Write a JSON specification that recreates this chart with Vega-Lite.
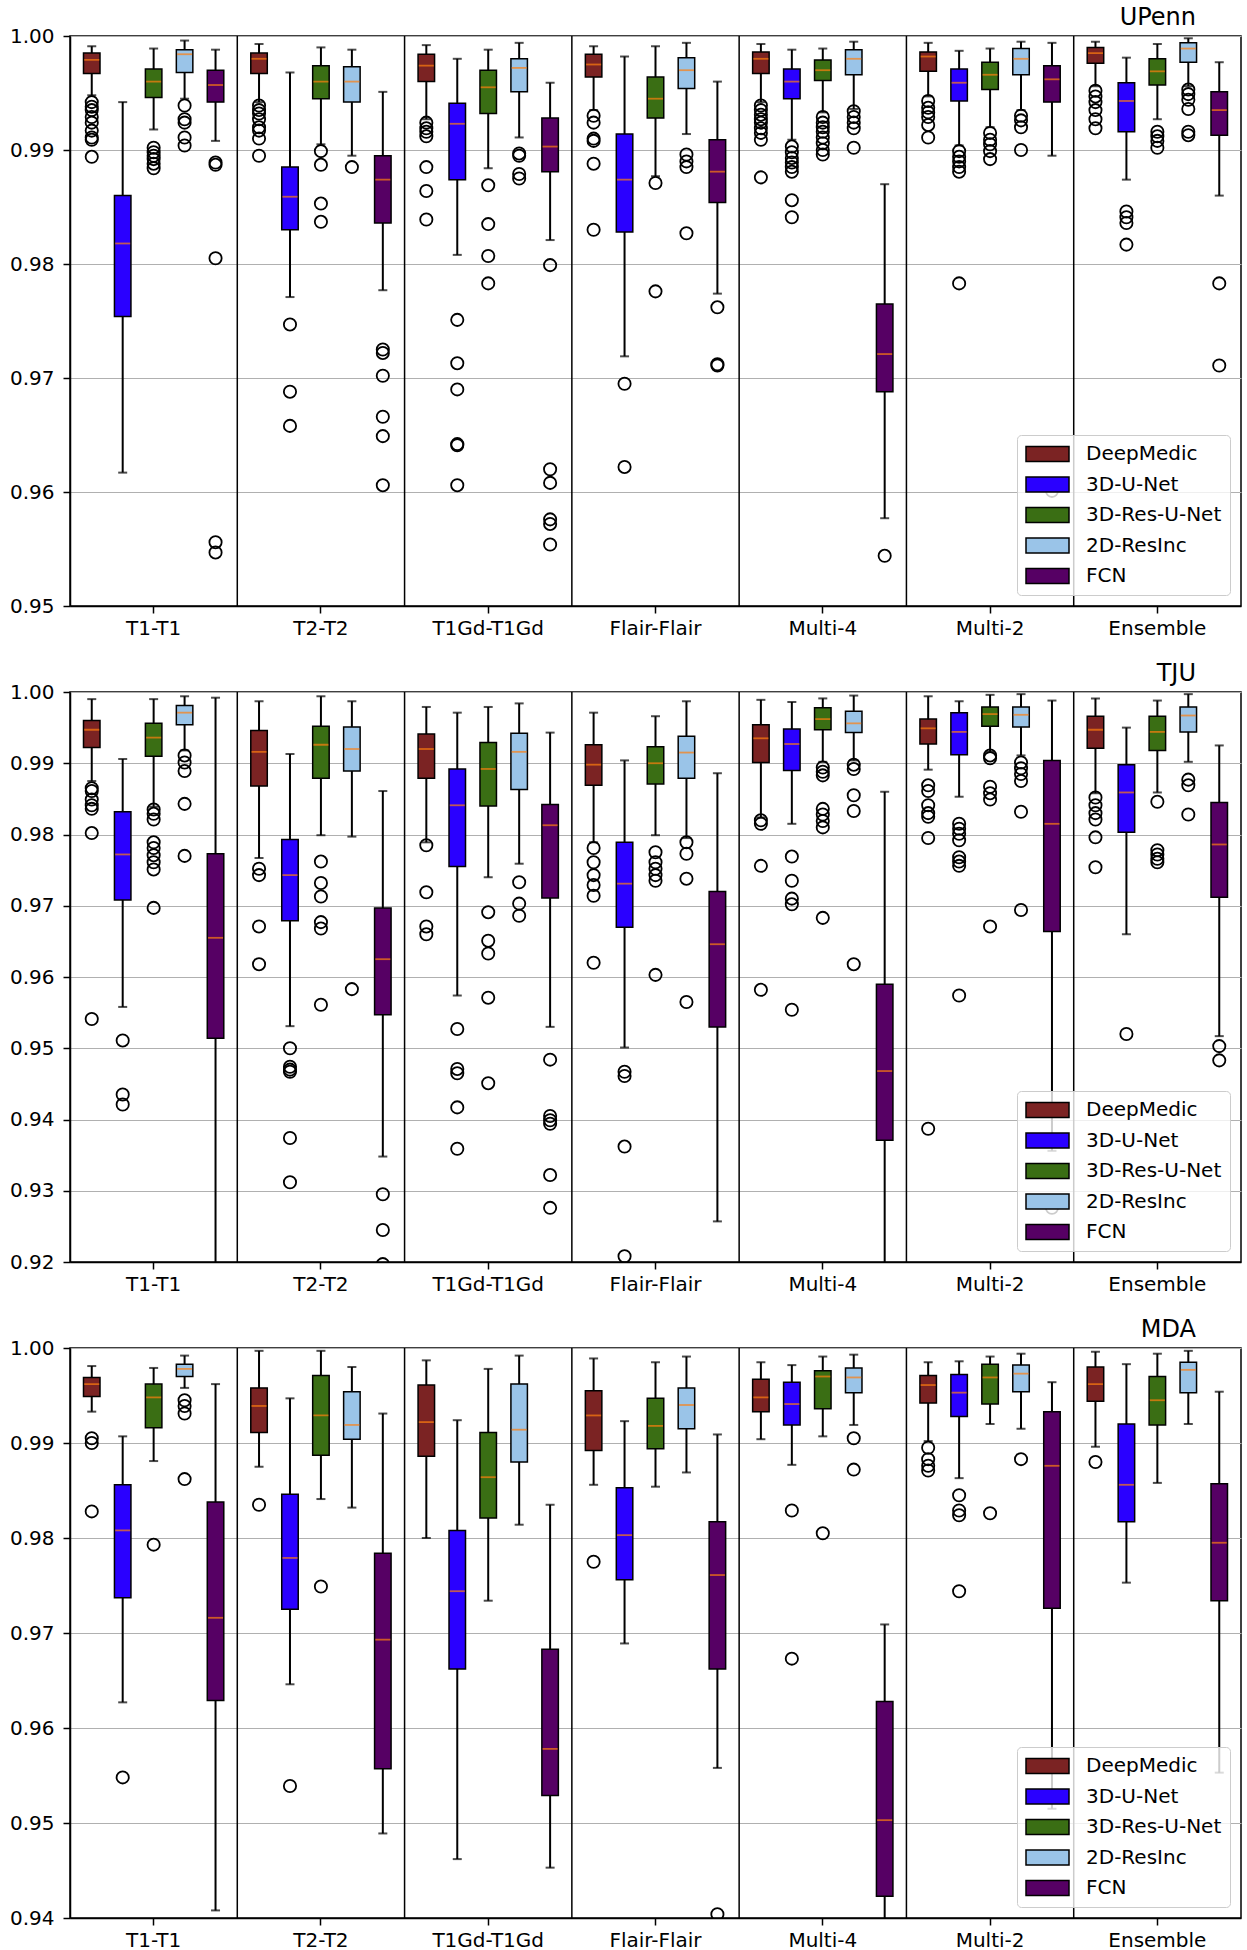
{
"$schema": "https://vega.github.io/schema/vega-lite/v6.json",
"padding": {"left": 8, "top": 5, "right": 0, "bottom": 0},
"config": {
  "font": "DejaVu Sans",
  "view": {"stroke": "black", "strokeWidth": 1.5},
  "axis": {"labelFont": "DejaVu Sans", "labelFontSize": 20, "labelColor": "black", "tickColor": "black", "tickSize": 7, "tickWidth": 1.5, "domainColor": "black", "domainWidth": 1.5, "gridColor": "#b0b0b0", "gridWidth": 1.2},
  "axisX": {"grid": false, "labelAngle": 0, "labelPadding": 5},
  "axisY": {"grid": true, "labelPadding": 9},
  "legend": {"orient": "bottom-right", "offset": 11, "fillColor": "rgba(255,255,255,0.8)", "strokeColor": "#cccccc", "cornerRadius": 4, "padding": 8, "symbolType": "M-1,-0.35H1V0.35H-1Z", "symbolSize": 1849, "symbolStrokeColor": "black", "symbolStrokeWidth": 1.5, "symbolOpacity": 1, "labelFont": "DejaVu Sans", "labelFontSize": 20, "labelColor": "black", "labelOffset": 16, "clipHeight": 22, "rowPadding": 8.5},
  "title": {"font": "DejaVu Sans", "fontSize": 24, "fontWeight": "normal", "color": "black", "anchor": "end", "frame": "group", "dx": -45, "offset": -4}
},
"datasets": {
"boxes": [
{"site":"UPenn","group":"T1-T1","model":"DeepMedic","lo":0.9948,"q1":0.9967,"med":0.9979,"q3":0.9985,"hi":0.9991},
{"site":"UPenn","group":"T1-T1","model":"3D-U-Net","lo":0.9617,"q1":0.9754,"med":0.9818,"q3":0.9860,"hi":0.9942},
{"site":"UPenn","group":"T1-T1","model":"3D-Res-U-Net","lo":0.9918,"q1":0.9946,"med":0.9960,"q3":0.9971,"hi":0.9989},
{"site":"UPenn","group":"T1-T1","model":"2D-ResInc","lo":0.9945,"q1":0.9968,"med":0.9984,"q3":0.9988,"hi":0.9996},
{"site":"UPenn","group":"T1-T1","model":"FCN","lo":0.9908,"q1":0.9942,"med":0.9957,"q3":0.9970,"hi":0.9988},
{"site":"UPenn","group":"T2-T2","model":"DeepMedic","lo":0.9942,"q1":0.9967,"med":0.9980,"q3":0.9985,"hi":0.9993},
{"site":"UPenn","group":"T2-T2","model":"3D-U-Net","lo":0.9771,"q1":0.9830,"med":0.9859,"q3":0.9885,"hi":0.9968},
{"site":"UPenn","group":"T2-T2","model":"3D-Res-U-Net","lo":0.9905,"q1":0.9945,"med":0.9960,"q3":0.9974,"hi":0.9990},
{"site":"UPenn","group":"T2-T2","model":"2D-ResInc","lo":0.9895,"q1":0.9942,"med":0.9960,"q3":0.9973,"hi":0.9988},
{"site":"UPenn","group":"T2-T2","model":"FCN","lo":0.9777,"q1":0.9836,"med":0.9874,"q3":0.9895,"hi":0.9951},
{"site":"UPenn","group":"T1Gd-T1Gd","model":"DeepMedic","lo":0.9927,"q1":0.9960,"med":0.9974,"q3":0.9984,"hi":0.9992},
{"site":"UPenn","group":"T1Gd-T1Gd","model":"3D-U-Net","lo":0.9808,"q1":0.9874,"med":0.9923,"q3":0.9941,"hi":0.9980},
{"site":"UPenn","group":"T1Gd-T1Gd","model":"3D-Res-U-Net","lo":0.9884,"q1":0.9932,"med":0.9955,"q3":0.9970,"hi":0.9988},
{"site":"UPenn","group":"T1Gd-T1Gd","model":"2D-ResInc","lo":0.9911,"q1":0.9951,"med":0.9972,"q3":0.9980,"hi":0.9994},
{"site":"UPenn","group":"T1Gd-T1Gd","model":"FCN","lo":0.9821,"q1":0.9881,"med":0.9903,"q3":0.9928,"hi":0.9959},
{"site":"UPenn","group":"Flair-Flair","model":"DeepMedic","lo":0.9935,"q1":0.9964,"med":0.9975,"q3":0.9984,"hi":0.9991},
{"site":"UPenn","group":"Flair-Flair","model":"3D-U-Net","lo":0.9719,"q1":0.9828,"med":0.9874,"q3":0.9914,"hi":0.9982},
{"site":"UPenn","group":"Flair-Flair","model":"3D-Res-U-Net","lo":0.9877,"q1":0.9928,"med":0.9945,"q3":0.9964,"hi":0.9991},
{"site":"UPenn","group":"Flair-Flair","model":"2D-ResInc","lo":0.9914,"q1":0.9954,"med":0.9970,"q3":0.9981,"hi":0.9994},
{"site":"UPenn","group":"Flair-Flair","model":"FCN","lo":0.9774,"q1":0.9854,"med":0.9881,"q3":0.9909,"hi":0.9960},
{"site":"UPenn","group":"Multi-4","model":"DeepMedic","lo":0.9942,"q1":0.9967,"med":0.9980,"q3":0.9986,"hi":0.9993},
{"site":"UPenn","group":"Multi-4","model":"3D-U-Net","lo":0.9909,"q1":0.9945,"med":0.9960,"q3":0.9971,"hi":0.9988},
{"site":"UPenn","group":"Multi-4","model":"3D-Res-U-Net","lo":0.9933,"q1":0.9961,"med":0.9970,"q3":0.9979,"hi":0.9989},
{"site":"UPenn","group":"Multi-4","model":"2D-ResInc","lo":0.9936,"q1":0.9966,"med":0.9980,"q3":0.9988,"hi":0.9995},
{"site":"UPenn","group":"Multi-4","model":"FCN","lo":0.9577,"q1":0.9688,"med":0.9721,"q3":0.9765,"hi":0.9870},
{"site":"UPenn","group":"Multi-2","model":"DeepMedic","lo":0.9947,"q1":0.9969,"med":0.9982,"q3":0.9986,"hi":0.9994},
{"site":"UPenn","group":"Multi-2","model":"3D-U-Net","lo":0.9904,"q1":0.9943,"med":0.9959,"q3":0.9971,"hi":0.9987},
{"site":"UPenn","group":"Multi-2","model":"3D-Res-U-Net","lo":0.9920,"q1":0.9953,"med":0.9966,"q3":0.9977,"hi":0.9989},
{"site":"UPenn","group":"Multi-2","model":"2D-ResInc","lo":0.9935,"q1":0.9966,"med":0.9980,"q3":0.9989,"hi":0.9995},
{"site":"UPenn","group":"Multi-2","model":"FCN","lo":0.9895,"q1":0.9942,"med":0.9962,"q3":0.9974,"hi":0.9994},
{"site":"UPenn","group":"Ensemble","model":"DeepMedic","lo":0.9956,"q1":0.9976,"med":0.9985,"q3":0.9990,"hi":0.9995},
{"site":"UPenn","group":"Ensemble","model":"3D-U-Net","lo":0.9874,"q1":0.9916,"med":0.9943,"q3":0.9959,"hi":0.9981},
{"site":"UPenn","group":"Ensemble","model":"3D-Res-U-Net","lo":0.9927,"q1":0.9957,"med":0.9969,"q3":0.9980,"hi":0.9993},
{"site":"UPenn","group":"Ensemble","model":"2D-ResInc","lo":0.9956,"q1":0.9977,"med":0.9989,"q3":0.9994,"hi":0.9998},
{"site":"UPenn","group":"Ensemble","model":"FCN","lo":0.9860,"q1":0.9913,"med":0.9935,"q3":0.9951,"hi":0.9977},
{"site":"TJU","group":"T1-T1","model":"DeepMedic","lo":0.9875,"q1":0.9922,"med":0.9947,"q3":0.9960,"hi":0.9990},
{"site":"TJU","group":"T1-T1","model":"3D-U-Net","lo":0.9558,"q1":0.9708,"med":0.9772,"q3":0.9832,"hi":0.9906},
{"site":"TJU","group":"T1-T1","model":"3D-Res-U-Net","lo":0.9839,"q1":0.9910,"med":0.9936,"q3":0.9956,"hi":0.9990},
{"site":"TJU","group":"T1-T1","model":"2D-ResInc","lo":0.9918,"q1":0.9954,"med":0.9971,"q3":0.9981,"hi":0.9994},
{"site":"TJU","group":"T1-T1","model":"FCN","lo":0.9100,"q1":0.9514,"med":0.9655,"q3":0.9773,"hi":0.9992},
{"site":"TJU","group":"T2-T2","model":"DeepMedic","lo":0.9767,"q1":0.9868,"med":0.9916,"q3":0.9946,"hi":0.9987},
{"site":"TJU","group":"T2-T2","model":"3D-U-Net","lo":0.9531,"q1":0.9679,"med":0.9743,"q3":0.9793,"hi":0.9913},
{"site":"TJU","group":"T2-T2","model":"3D-Res-U-Net","lo":0.9799,"q1":0.9879,"med":0.9926,"q3":0.9952,"hi":0.9994},
{"site":"TJU","group":"T2-T2","model":"2D-ResInc","lo":0.9797,"q1":0.9889,"med":0.9920,"q3":0.9951,"hi":0.9987},
{"site":"TJU","group":"T2-T2","model":"FCN","lo":0.9348,"q1":0.9547,"med":0.9625,"q3":0.9697,"hi":0.9861},
{"site":"TJU","group":"T1Gd-T1Gd","model":"DeepMedic","lo":0.9789,"q1":0.9879,"med":0.9920,"q3":0.9941,"hi":0.9979},
{"site":"TJU","group":"T1Gd-T1Gd","model":"3D-U-Net","lo":0.9574,"q1":0.9755,"med":0.9841,"q3":0.9892,"hi":0.9971},
{"site":"TJU","group":"T1Gd-T1Gd","model":"3D-Res-U-Net","lo":0.9740,"q1":0.9840,"med":0.9892,"q3":0.9929,"hi":0.9979},
{"site":"TJU","group":"T1Gd-T1Gd","model":"2D-ResInc","lo":0.9759,"q1":0.9863,"med":0.9916,"q3":0.9942,"hi":0.9984},
{"site":"TJU","group":"T1Gd-T1Gd","model":"FCN","lo":0.9530,"q1":0.9711,"med":0.9813,"q3":0.9842,"hi":0.9943},
{"site":"TJU","group":"Flair-Flair","model":"DeepMedic","lo":0.9789,"q1":0.9869,"med":0.9898,"q3":0.9926,"hi":0.9971},
{"site":"TJU","group":"Flair-Flair","model":"3D-U-Net","lo":0.9501,"q1":0.9670,"med":0.9731,"q3":0.9789,"hi":0.9904},
{"site":"TJU","group":"Flair-Flair","model":"3D-Res-U-Net","lo":0.9799,"q1":0.9871,"med":0.9900,"q3":0.9923,"hi":0.9966},
{"site":"TJU","group":"Flair-Flair","model":"2D-ResInc","lo":0.9795,"q1":0.9879,"med":0.9915,"q3":0.9938,"hi":0.9987},
{"site":"TJU","group":"Flair-Flair","model":"FCN","lo":0.9257,"q1":0.9530,"med":0.9646,"q3":0.9720,"hi":0.9886},
{"site":"TJU","group":"Multi-4","model":"DeepMedic","lo":0.9824,"q1":0.9901,"med":0.9935,"q3":0.9954,"hi":0.9989},
{"site":"TJU","group":"Multi-4","model":"3D-U-Net","lo":0.9815,"q1":0.9890,"med":0.9927,"q3":0.9948,"hi":0.9986},
{"site":"TJU","group":"Multi-4","model":"3D-Res-U-Net","lo":0.9902,"q1":0.9947,"med":0.9962,"q3":0.9978,"hi":0.9991},
{"site":"TJU","group":"Multi-4","model":"2D-ResInc","lo":0.9904,"q1":0.9943,"med":0.9956,"q3":0.9973,"hi":0.9995},
{"site":"TJU","group":"Multi-4","model":"FCN","lo":0.9100,"q1":0.9371,"med":0.9468,"q3":0.9590,"hi":0.9860},
{"site":"TJU","group":"Multi-2","model":"DeepMedic","lo":0.9891,"q1":0.9927,"med":0.9949,"q3":0.9962,"hi":0.9994},
{"site":"TJU","group":"Multi-2","model":"3D-U-Net","lo":0.9853,"q1":0.9912,"med":0.9944,"q3":0.9971,"hi":0.9987},
{"site":"TJU","group":"Multi-2","model":"3D-Res-U-Net","lo":0.9916,"q1":0.9952,"med":0.9969,"q3":0.9979,"hi":0.9996},
{"site":"TJU","group":"Multi-2","model":"2D-ResInc","lo":0.9911,"q1":0.9951,"med":0.9968,"q3":0.9979,"hi":0.9997},
{"site":"TJU","group":"Multi-2","model":"FCN","lo":0.9356,"q1":0.9664,"med":0.9815,"q3":0.9904,"hi":0.9988},
{"site":"TJU","group":"Ensemble","model":"DeepMedic","lo":0.9858,"q1":0.9921,"med":0.9947,"q3":0.9966,"hi":0.9991},
{"site":"TJU","group":"Ensemble","model":"3D-U-Net","lo":0.9660,"q1":0.9803,"med":0.9859,"q3":0.9898,"hi":0.9950},
{"site":"TJU","group":"Ensemble","model":"3D-Res-U-Net","lo":0.9859,"q1":0.9918,"med":0.9944,"q3":0.9966,"hi":0.9988},
{"site":"TJU","group":"Ensemble","model":"2D-ResInc","lo":0.9902,"q1":0.9944,"med":0.9967,"q3":0.9979,"hi":0.9997},
{"site":"TJU","group":"Ensemble","model":"FCN","lo":0.9517,"q1":0.9712,"med":0.9786,"q3":0.9845,"hi":0.9925},
{"site":"MDA","group":"T1-T1","model":"DeepMedic","lo":0.9933,"q1":0.9949,"med":0.9962,"q3":0.9969,"hi":0.9981},
{"site":"MDA","group":"T1-T1","model":"3D-U-Net","lo":0.9627,"q1":0.9737,"med":0.9808,"q3":0.9856,"hi":0.9907},
{"site":"MDA","group":"T1-T1","model":"3D-Res-U-Net","lo":0.9881,"q1":0.9916,"med":0.9948,"q3":0.9962,"hi":0.9979},
{"site":"MDA","group":"T1-T1","model":"2D-ResInc","lo":0.9958,"q1":0.9970,"med":0.9978,"q3":0.9983,"hi":0.9992},
{"site":"MDA","group":"T1-T1","model":"FCN","lo":0.9408,"q1":0.9629,"med":0.9716,"q3":0.9838,"hi":0.9962},
{"site":"MDA","group":"T2-T2","model":"DeepMedic","lo":0.9875,"q1":0.9911,"med":0.9939,"q3":0.9958,"hi":0.9997},
{"site":"MDA","group":"T2-T2","model":"3D-U-Net","lo":0.9646,"q1":0.9725,"med":0.9779,"q3":0.9846,"hi":0.9947},
{"site":"MDA","group":"T2-T2","model":"3D-Res-U-Net","lo":0.9841,"q1":0.9887,"med":0.9929,"q3":0.9971,"hi":0.9997},
{"site":"MDA","group":"T2-T2","model":"2D-ResInc","lo":0.9832,"q1":0.9904,"med":0.9919,"q3":0.9954,"hi":0.9980},
{"site":"MDA","group":"T2-T2","model":"FCN","lo":0.9489,"q1":0.9557,"med":0.9693,"q3":0.9784,"hi":0.9931},
{"site":"MDA","group":"T1Gd-T1Gd","model":"DeepMedic","lo":0.9800,"q1":0.9886,"med":0.9922,"q3":0.9961,"hi":0.9987},
{"site":"MDA","group":"T1Gd-T1Gd","model":"3D-U-Net","lo":0.9462,"q1":0.9662,"med":0.9744,"q3":0.9808,"hi":0.9924},
{"site":"MDA","group":"T1Gd-T1Gd","model":"3D-Res-U-Net","lo":0.9734,"q1":0.9821,"med":0.9864,"q3":0.9911,"hi":0.9978},
{"site":"MDA","group":"T1Gd-T1Gd","model":"2D-ResInc","lo":0.9814,"q1":0.9880,"med":0.9914,"q3":0.9962,"hi":0.9992},
{"site":"MDA","group":"T1Gd-T1Gd","model":"FCN","lo":0.9453,"q1":0.9529,"med":0.9578,"q3":0.9683,"hi":0.9835},
{"site":"MDA","group":"Flair-Flair","model":"DeepMedic","lo":0.9856,"q1":0.9892,"med":0.9929,"q3":0.9955,"hi":0.9989},
{"site":"MDA","group":"Flair-Flair","model":"3D-U-Net","lo":0.9689,"q1":0.9756,"med":0.9803,"q3":0.9853,"hi":0.9923},
{"site":"MDA","group":"Flair-Flair","model":"3D-Res-U-Net","lo":0.9854,"q1":0.9894,"med":0.9918,"q3":0.9947,"hi":0.9985},
{"site":"MDA","group":"Flair-Flair","model":"2D-ResInc","lo":0.9869,"q1":0.9915,"med":0.9940,"q3":0.9958,"hi":0.9991},
{"site":"MDA","group":"Flair-Flair","model":"FCN","lo":0.9558,"q1":0.9662,"med":0.9761,"q3":0.9817,"hi":0.9909},
{"site":"MDA","group":"Multi-4","model":"DeepMedic","lo":0.9904,"q1":0.9933,"med":0.9948,"q3":0.9967,"hi":0.9985},
{"site":"MDA","group":"Multi-4","model":"3D-U-Net","lo":0.9877,"q1":0.9919,"med":0.9941,"q3":0.9964,"hi":0.9982},
{"site":"MDA","group":"Multi-4","model":"3D-Res-U-Net","lo":0.9907,"q1":0.9936,"med":0.9970,"q3":0.9976,"hi":0.9991},
{"site":"MDA","group":"Multi-4","model":"2D-ResInc","lo":0.9919,"q1":0.9953,"med":0.9969,"q3":0.9979,"hi":0.9993},
{"site":"MDA","group":"Multi-4","model":"FCN","lo":0.9300,"q1":0.9423,"med":0.9503,"q3":0.9628,"hi":0.9709},
{"site":"MDA","group":"Multi-2","model":"DeepMedic","lo":0.9902,"q1":0.9942,"med":0.9961,"q3":0.9971,"hi":0.9985},
{"site":"MDA","group":"Multi-2","model":"3D-U-Net","lo":0.9863,"q1":0.9928,"med":0.9953,"q3":0.9972,"hi":0.9986},
{"site":"MDA","group":"Multi-2","model":"3D-Res-U-Net","lo":0.9920,"q1":0.9941,"med":0.9969,"q3":0.9983,"hi":0.9991},
{"site":"MDA","group":"Multi-2","model":"2D-ResInc","lo":0.9915,"q1":0.9954,"med":0.9973,"q3":0.9982,"hi":0.9994},
{"site":"MDA","group":"Multi-2","model":"FCN","lo":0.9515,"q1":0.9726,"med":0.9876,"q3":0.9933,"hi":0.9964},
{"site":"MDA","group":"Ensemble","model":"DeepMedic","lo":0.9896,"q1":0.9944,"med":0.9962,"q3":0.9980,"hi":0.9996},
{"site":"MDA","group":"Ensemble","model":"3D-U-Net","lo":0.9753,"q1":0.9817,"med":0.9856,"q3":0.9920,"hi":0.9983},
{"site":"MDA","group":"Ensemble","model":"3D-Res-U-Net","lo":0.9858,"q1":0.9919,"med":0.9945,"q3":0.9970,"hi":0.9994},
{"site":"MDA","group":"Ensemble","model":"2D-ResInc","lo":0.9920,"q1":0.9953,"med":0.9977,"q3":0.9985,"hi":0.9997},
{"site":"MDA","group":"Ensemble","model":"FCN","lo":0.9553,"q1":0.9734,"med":0.9795,"q3":0.9857,"hi":0.9954}
],
"outliers": [
{"site":"UPenn","group":"T1-T1","model":"DeepMedic","v":0.9942},{"site":"UPenn","group":"T1-T1","model":"DeepMedic","v":0.9938},{"site":"UPenn","group":"T1-T1","model":"DeepMedic","v":0.9935},{"site":"UPenn","group":"T1-T1","model":"DeepMedic","v":0.9929},{"site":"UPenn","group":"T1-T1","model":"DeepMedic","v":0.9924},{"site":"UPenn","group":"T1-T1","model":"DeepMedic","v":0.9917},{"site":"UPenn","group":"T1-T1","model":"DeepMedic","v":0.9911},{"site":"UPenn","group":"T1-T1","model":"DeepMedic","v":0.9909},{"site":"UPenn","group":"T1-T1","model":"DeepMedic","v":0.9894},
{"site":"UPenn","group":"T1-T1","model":"3D-Res-U-Net","v":0.9902},{"site":"UPenn","group":"T1-T1","model":"3D-Res-U-Net","v":0.9898},{"site":"UPenn","group":"T1-T1","model":"3D-Res-U-Net","v":0.9895},{"site":"UPenn","group":"T1-T1","model":"3D-Res-U-Net","v":0.9892},{"site":"UPenn","group":"T1-T1","model":"3D-Res-U-Net","v":0.9888},{"site":"UPenn","group":"T1-T1","model":"3D-Res-U-Net","v":0.9884},
{"site":"UPenn","group":"T1-T1","model":"2D-ResInc","v":0.9939},{"site":"UPenn","group":"T1-T1","model":"2D-ResInc","v":0.9927},{"site":"UPenn","group":"T1-T1","model":"2D-ResInc","v":0.9924},{"site":"UPenn","group":"T1-T1","model":"2D-ResInc","v":0.9911},{"site":"UPenn","group":"T1-T1","model":"2D-ResInc","v":0.9904},
{"site":"UPenn","group":"T1-T1","model":"FCN","v":0.9889},{"site":"UPenn","group":"T1-T1","model":"FCN","v":0.9887},{"site":"UPenn","group":"T1-T1","model":"FCN","v":0.9805},{"site":"UPenn","group":"T1-T1","model":"FCN","v":0.9556},{"site":"UPenn","group":"T1-T1","model":"FCN","v":0.9547},
{"site":"UPenn","group":"T2-T2","model":"DeepMedic","v":0.9939},{"site":"UPenn","group":"T2-T2","model":"DeepMedic","v":0.9935},{"site":"UPenn","group":"T2-T2","model":"DeepMedic","v":0.9932},{"site":"UPenn","group":"T2-T2","model":"DeepMedic","v":0.9927},{"site":"UPenn","group":"T2-T2","model":"DeepMedic","v":0.9920},{"site":"UPenn","group":"T2-T2","model":"DeepMedic","v":0.9917},{"site":"UPenn","group":"T2-T2","model":"DeepMedic","v":0.9910},{"site":"UPenn","group":"T2-T2","model":"DeepMedic","v":0.9895},
{"site":"UPenn","group":"T2-T2","model":"3D-U-Net","v":0.9747},{"site":"UPenn","group":"T2-T2","model":"3D-U-Net","v":0.9688},{"site":"UPenn","group":"T2-T2","model":"3D-U-Net","v":0.9658},
{"site":"UPenn","group":"T2-T2","model":"3D-Res-U-Net","v":0.9899},{"site":"UPenn","group":"T2-T2","model":"3D-Res-U-Net","v":0.9887},{"site":"UPenn","group":"T2-T2","model":"3D-Res-U-Net","v":0.9853},{"site":"UPenn","group":"T2-T2","model":"3D-Res-U-Net","v":0.9837},
{"site":"UPenn","group":"T2-T2","model":"2D-ResInc","v":0.9885},
{"site":"UPenn","group":"T2-T2","model":"FCN","v":0.9725},{"site":"UPenn","group":"T2-T2","model":"FCN","v":0.9722},{"site":"UPenn","group":"T2-T2","model":"FCN","v":0.9702},{"site":"UPenn","group":"T2-T2","model":"FCN","v":0.9666},{"site":"UPenn","group":"T2-T2","model":"FCN","v":0.9649},{"site":"UPenn","group":"T2-T2","model":"FCN","v":0.9606},
{"site":"UPenn","group":"T1Gd-T1Gd","model":"DeepMedic","v":0.9924},{"site":"UPenn","group":"T1Gd-T1Gd","model":"DeepMedic","v":0.9919},{"site":"UPenn","group":"T1Gd-T1Gd","model":"DeepMedic","v":0.9916},{"site":"UPenn","group":"T1Gd-T1Gd","model":"DeepMedic","v":0.9912},{"site":"UPenn","group":"T1Gd-T1Gd","model":"DeepMedic","v":0.9885},{"site":"UPenn","group":"T1Gd-T1Gd","model":"DeepMedic","v":0.9864},{"site":"UPenn","group":"T1Gd-T1Gd","model":"DeepMedic","v":0.9839},
{"site":"UPenn","group":"T1Gd-T1Gd","model":"3D-U-Net","v":0.9751},{"site":"UPenn","group":"T1Gd-T1Gd","model":"3D-U-Net","v":0.9713},{"site":"UPenn","group":"T1Gd-T1Gd","model":"3D-U-Net","v":0.9690},{"site":"UPenn","group":"T1Gd-T1Gd","model":"3D-U-Net","v":0.9642},{"site":"UPenn","group":"T1Gd-T1Gd","model":"3D-U-Net","v":0.9641},{"site":"UPenn","group":"T1Gd-T1Gd","model":"3D-U-Net","v":0.9606},
{"site":"UPenn","group":"T1Gd-T1Gd","model":"3D-Res-U-Net","v":0.9869},{"site":"UPenn","group":"T1Gd-T1Gd","model":"3D-Res-U-Net","v":0.9835},{"site":"UPenn","group":"T1Gd-T1Gd","model":"3D-Res-U-Net","v":0.9807},{"site":"UPenn","group":"T1Gd-T1Gd","model":"3D-Res-U-Net","v":0.9783},
{"site":"UPenn","group":"T1Gd-T1Gd","model":"2D-ResInc","v":0.9897},{"site":"UPenn","group":"T1Gd-T1Gd","model":"2D-ResInc","v":0.9895},{"site":"UPenn","group":"T1Gd-T1Gd","model":"2D-ResInc","v":0.9879},{"site":"UPenn","group":"T1Gd-T1Gd","model":"2D-ResInc","v":0.9875},
{"site":"UPenn","group":"T1Gd-T1Gd","model":"FCN","v":0.9799},{"site":"UPenn","group":"T1Gd-T1Gd","model":"FCN","v":0.9620},{"site":"UPenn","group":"T1Gd-T1Gd","model":"FCN","v":0.9608},{"site":"UPenn","group":"T1Gd-T1Gd","model":"FCN","v":0.9576},{"site":"UPenn","group":"T1Gd-T1Gd","model":"FCN","v":0.9572},{"site":"UPenn","group":"T1Gd-T1Gd","model":"FCN","v":0.9554},
{"site":"UPenn","group":"Flair-Flair","model":"DeepMedic","v":0.9930},{"site":"UPenn","group":"Flair-Flair","model":"DeepMedic","v":0.9924},{"site":"UPenn","group":"Flair-Flair","model":"DeepMedic","v":0.9910},{"site":"UPenn","group":"Flair-Flair","model":"DeepMedic","v":0.9908},{"site":"UPenn","group":"Flair-Flair","model":"DeepMedic","v":0.9888},{"site":"UPenn","group":"Flair-Flair","model":"DeepMedic","v":0.9830},
{"site":"UPenn","group":"Flair-Flair","model":"3D-U-Net","v":0.9695},{"site":"UPenn","group":"Flair-Flair","model":"3D-U-Net","v":0.9622},
{"site":"UPenn","group":"Flair-Flair","model":"3D-Res-U-Net","v":0.9871},{"site":"UPenn","group":"Flair-Flair","model":"3D-Res-U-Net","v":0.9776},
{"site":"UPenn","group":"Flair-Flair","model":"2D-ResInc","v":0.9896},{"site":"UPenn","group":"Flair-Flair","model":"2D-ResInc","v":0.9890},{"site":"UPenn","group":"Flair-Flair","model":"2D-ResInc","v":0.9885},{"site":"UPenn","group":"Flair-Flair","model":"2D-ResInc","v":0.9827},
{"site":"UPenn","group":"Flair-Flair","model":"FCN","v":0.9762},{"site":"UPenn","group":"Flair-Flair","model":"FCN","v":0.9712},{"site":"UPenn","group":"Flair-Flair","model":"FCN","v":0.9711},
{"site":"UPenn","group":"Multi-4","model":"DeepMedic","v":0.9939},{"site":"UPenn","group":"Multi-4","model":"DeepMedic","v":0.9935},{"site":"UPenn","group":"Multi-4","model":"DeepMedic","v":0.9931},{"site":"UPenn","group":"Multi-4","model":"DeepMedic","v":0.9927},{"site":"UPenn","group":"Multi-4","model":"DeepMedic","v":0.9924},{"site":"UPenn","group":"Multi-4","model":"DeepMedic","v":0.9919},{"site":"UPenn","group":"Multi-4","model":"DeepMedic","v":0.9915},{"site":"UPenn","group":"Multi-4","model":"DeepMedic","v":0.9909},{"site":"UPenn","group":"Multi-4","model":"DeepMedic","v":0.9876},
{"site":"UPenn","group":"Multi-4","model":"3D-U-Net","v":0.9903},{"site":"UPenn","group":"Multi-4","model":"3D-U-Net","v":0.9898},{"site":"UPenn","group":"Multi-4","model":"3D-U-Net","v":0.9893},{"site":"UPenn","group":"Multi-4","model":"3D-U-Net","v":0.9889},{"site":"UPenn","group":"Multi-4","model":"3D-U-Net","v":0.9885},{"site":"UPenn","group":"Multi-4","model":"3D-U-Net","v":0.9881},{"site":"UPenn","group":"Multi-4","model":"3D-U-Net","v":0.9856},{"site":"UPenn","group":"Multi-4","model":"3D-U-Net","v":0.9841},
{"site":"UPenn","group":"Multi-4","model":"3D-Res-U-Net","v":0.9929},{"site":"UPenn","group":"Multi-4","model":"3D-Res-U-Net","v":0.9924},{"site":"UPenn","group":"Multi-4","model":"3D-Res-U-Net","v":0.9920},{"site":"UPenn","group":"Multi-4","model":"3D-Res-U-Net","v":0.9916},{"site":"UPenn","group":"Multi-4","model":"3D-Res-U-Net","v":0.9911},{"site":"UPenn","group":"Multi-4","model":"3D-Res-U-Net","v":0.9906},{"site":"UPenn","group":"Multi-4","model":"3D-Res-U-Net","v":0.9900},{"site":"UPenn","group":"Multi-4","model":"3D-Res-U-Net","v":0.9896},
{"site":"UPenn","group":"Multi-4","model":"2D-ResInc","v":0.9934},{"site":"UPenn","group":"Multi-4","model":"2D-ResInc","v":0.9929},{"site":"UPenn","group":"Multi-4","model":"2D-ResInc","v":0.9924},{"site":"UPenn","group":"Multi-4","model":"2D-ResInc","v":0.9919},{"site":"UPenn","group":"Multi-4","model":"2D-ResInc","v":0.9902},
{"site":"UPenn","group":"Multi-4","model":"FCN","v":0.9544},
{"site":"UPenn","group":"Multi-2","model":"DeepMedic","v":0.9943},{"site":"UPenn","group":"Multi-2","model":"DeepMedic","v":0.9937},{"site":"UPenn","group":"Multi-2","model":"DeepMedic","v":0.9933},{"site":"UPenn","group":"Multi-2","model":"DeepMedic","v":0.9929},{"site":"UPenn","group":"Multi-2","model":"DeepMedic","v":0.9922},{"site":"UPenn","group":"Multi-2","model":"DeepMedic","v":0.9911},
{"site":"UPenn","group":"Multi-2","model":"3D-U-Net","v":0.9899},{"site":"UPenn","group":"Multi-2","model":"3D-U-Net","v":0.9894},{"site":"UPenn","group":"Multi-2","model":"3D-U-Net","v":0.9890},{"site":"UPenn","group":"Multi-2","model":"3D-U-Net","v":0.9885},{"site":"UPenn","group":"Multi-2","model":"3D-U-Net","v":0.9881},{"site":"UPenn","group":"Multi-2","model":"3D-U-Net","v":0.9783},
{"site":"UPenn","group":"Multi-2","model":"3D-Res-U-Net","v":0.9915},{"site":"UPenn","group":"Multi-2","model":"3D-Res-U-Net","v":0.9909},{"site":"UPenn","group":"Multi-2","model":"3D-Res-U-Net","v":0.9905},{"site":"UPenn","group":"Multi-2","model":"3D-Res-U-Net","v":0.9899},{"site":"UPenn","group":"Multi-2","model":"3D-Res-U-Net","v":0.9892},
{"site":"UPenn","group":"Multi-2","model":"2D-ResInc","v":0.9930},{"site":"UPenn","group":"Multi-2","model":"2D-ResInc","v":0.9926},{"site":"UPenn","group":"Multi-2","model":"2D-ResInc","v":0.9920},{"site":"UPenn","group":"Multi-2","model":"2D-ResInc","v":0.9900},
{"site":"UPenn","group":"Multi-2","model":"FCN","v":0.9601},
{"site":"UPenn","group":"Ensemble","model":"DeepMedic","v":0.9952},{"site":"UPenn","group":"Ensemble","model":"DeepMedic","v":0.9947},{"site":"UPenn","group":"Ensemble","model":"DeepMedic","v":0.9942},{"site":"UPenn","group":"Ensemble","model":"DeepMedic","v":0.9935},{"site":"UPenn","group":"Ensemble","model":"DeepMedic","v":0.9927},{"site":"UPenn","group":"Ensemble","model":"DeepMedic","v":0.9919},
{"site":"UPenn","group":"Ensemble","model":"3D-U-Net","v":0.9846},{"site":"UPenn","group":"Ensemble","model":"3D-U-Net","v":0.9841},{"site":"UPenn","group":"Ensemble","model":"3D-U-Net","v":0.9836},{"site":"UPenn","group":"Ensemble","model":"3D-U-Net","v":0.9817},
{"site":"UPenn","group":"Ensemble","model":"3D-Res-U-Net","v":0.9916},{"site":"UPenn","group":"Ensemble","model":"3D-Res-U-Net","v":0.9912},{"site":"UPenn","group":"Ensemble","model":"3D-Res-U-Net","v":0.9908},{"site":"UPenn","group":"Ensemble","model":"3D-Res-U-Net","v":0.9902},
{"site":"UPenn","group":"Ensemble","model":"2D-ResInc","v":0.9953},{"site":"UPenn","group":"Ensemble","model":"2D-ResInc","v":0.9949},{"site":"UPenn","group":"Ensemble","model":"2D-ResInc","v":0.9944},{"site":"UPenn","group":"Ensemble","model":"2D-ResInc","v":0.9936},{"site":"UPenn","group":"Ensemble","model":"2D-ResInc","v":0.9916},{"site":"UPenn","group":"Ensemble","model":"2D-ResInc","v":0.9913},
{"site":"UPenn","group":"Ensemble","model":"FCN","v":0.9783},{"site":"UPenn","group":"Ensemble","model":"FCN","v":0.9711},
{"site":"TJU","group":"T1-T1","model":"DeepMedic","v":0.9865},{"site":"TJU","group":"T1-T1","model":"DeepMedic","v":0.9861},{"site":"TJU","group":"T1-T1","model":"DeepMedic","v":0.9849},{"site":"TJU","group":"T1-T1","model":"DeepMedic","v":0.9841},{"site":"TJU","group":"T1-T1","model":"DeepMedic","v":0.9836},{"site":"TJU","group":"T1-T1","model":"DeepMedic","v":0.9802},{"site":"TJU","group":"T1-T1","model":"DeepMedic","v":0.9541},
{"site":"TJU","group":"T1-T1","model":"3D-U-Net","v":0.9511},{"site":"TJU","group":"T1-T1","model":"3D-U-Net","v":0.9435},{"site":"TJU","group":"T1-T1","model":"3D-U-Net","v":0.9421},
{"site":"TJU","group":"T1-T1","model":"3D-Res-U-Net","v":0.9835},{"site":"TJU","group":"T1-T1","model":"3D-Res-U-Net","v":0.9829},{"site":"TJU","group":"T1-T1","model":"3D-Res-U-Net","v":0.9821},{"site":"TJU","group":"T1-T1","model":"3D-Res-U-Net","v":0.9789},{"site":"TJU","group":"T1-T1","model":"3D-Res-U-Net","v":0.9781},{"site":"TJU","group":"T1-T1","model":"3D-Res-U-Net","v":0.9771},{"site":"TJU","group":"T1-T1","model":"3D-Res-U-Net","v":0.9761},{"site":"TJU","group":"T1-T1","model":"3D-Res-U-Net","v":0.9751},{"site":"TJU","group":"T1-T1","model":"3D-Res-U-Net","v":0.9697},
{"site":"TJU","group":"T1-T1","model":"2D-ResInc","v":0.9911},{"site":"TJU","group":"T1-T1","model":"2D-ResInc","v":0.9901},{"site":"TJU","group":"T1-T1","model":"2D-ResInc","v":0.9889},{"site":"TJU","group":"T1-T1","model":"2D-ResInc","v":0.9843},{"site":"TJU","group":"T1-T1","model":"2D-ResInc","v":0.9770},
{"site":"TJU","group":"T2-T2","model":"DeepMedic","v":0.9752},{"site":"TJU","group":"T2-T2","model":"DeepMedic","v":0.9743},{"site":"TJU","group":"T2-T2","model":"DeepMedic","v":0.9671},{"site":"TJU","group":"T2-T2","model":"DeepMedic","v":0.9618},
{"site":"TJU","group":"T2-T2","model":"3D-U-Net","v":0.9500},{"site":"TJU","group":"T2-T2","model":"3D-U-Net","v":0.9474},{"site":"TJU","group":"T2-T2","model":"3D-U-Net","v":0.9470},{"site":"TJU","group":"T2-T2","model":"3D-U-Net","v":0.9467},{"site":"TJU","group":"T2-T2","model":"3D-U-Net","v":0.9374},{"site":"TJU","group":"T2-T2","model":"3D-U-Net","v":0.9312},
{"site":"TJU","group":"T2-T2","model":"3D-Res-U-Net","v":0.9762},{"site":"TJU","group":"T2-T2","model":"3D-Res-U-Net","v":0.9732},{"site":"TJU","group":"T2-T2","model":"3D-Res-U-Net","v":0.9713},{"site":"TJU","group":"T2-T2","model":"3D-Res-U-Net","v":0.9677},{"site":"TJU","group":"T2-T2","model":"3D-Res-U-Net","v":0.9668},{"site":"TJU","group":"T2-T2","model":"3D-Res-U-Net","v":0.9561},
{"site":"TJU","group":"T2-T2","model":"2D-ResInc","v":0.9583},
{"site":"TJU","group":"T2-T2","model":"FCN","v":0.9295},{"site":"TJU","group":"T2-T2","model":"FCN","v":0.9245},{"site":"TJU","group":"T2-T2","model":"FCN","v":0.9197},
{"site":"TJU","group":"T1Gd-T1Gd","model":"DeepMedic","v":0.9785},{"site":"TJU","group":"T1Gd-T1Gd","model":"DeepMedic","v":0.9719},{"site":"TJU","group":"T1Gd-T1Gd","model":"DeepMedic","v":0.9671},{"site":"TJU","group":"T1Gd-T1Gd","model":"DeepMedic","v":0.9660},
{"site":"TJU","group":"T1Gd-T1Gd","model":"3D-U-Net","v":0.9527},{"site":"TJU","group":"T1Gd-T1Gd","model":"3D-U-Net","v":0.9471},{"site":"TJU","group":"T1Gd-T1Gd","model":"3D-U-Net","v":0.9465},{"site":"TJU","group":"T1Gd-T1Gd","model":"3D-U-Net","v":0.9417},{"site":"TJU","group":"T1Gd-T1Gd","model":"3D-U-Net","v":0.9359},
{"site":"TJU","group":"T1Gd-T1Gd","model":"3D-Res-U-Net","v":0.9691},{"site":"TJU","group":"T1Gd-T1Gd","model":"3D-Res-U-Net","v":0.9651},{"site":"TJU","group":"T1Gd-T1Gd","model":"3D-Res-U-Net","v":0.9633},{"site":"TJU","group":"T1Gd-T1Gd","model":"3D-Res-U-Net","v":0.9571},{"site":"TJU","group":"T1Gd-T1Gd","model":"3D-Res-U-Net","v":0.9451},
{"site":"TJU","group":"T1Gd-T1Gd","model":"2D-ResInc","v":0.9733},{"site":"TJU","group":"T1Gd-T1Gd","model":"2D-ResInc","v":0.9703},{"site":"TJU","group":"T1Gd-T1Gd","model":"2D-ResInc","v":0.9686},
{"site":"TJU","group":"T1Gd-T1Gd","model":"FCN","v":0.9484},{"site":"TJU","group":"T1Gd-T1Gd","model":"FCN","v":0.9405},{"site":"TJU","group":"T1Gd-T1Gd","model":"FCN","v":0.9399},{"site":"TJU","group":"T1Gd-T1Gd","model":"FCN","v":0.9394},{"site":"TJU","group":"T1Gd-T1Gd","model":"FCN","v":0.9322},{"site":"TJU","group":"T1Gd-T1Gd","model":"FCN","v":0.9276},
{"site":"TJU","group":"Flair-Flair","model":"DeepMedic","v":0.9781},{"site":"TJU","group":"Flair-Flair","model":"DeepMedic","v":0.9761},{"site":"TJU","group":"Flair-Flair","model":"DeepMedic","v":0.9743},{"site":"TJU","group":"Flair-Flair","model":"DeepMedic","v":0.9729},{"site":"TJU","group":"Flair-Flair","model":"DeepMedic","v":0.9714},{"site":"TJU","group":"Flair-Flair","model":"DeepMedic","v":0.9620},
{"site":"TJU","group":"Flair-Flair","model":"3D-U-Net","v":0.9467},{"site":"TJU","group":"Flair-Flair","model":"3D-U-Net","v":0.9461},{"site":"TJU","group":"Flair-Flair","model":"3D-U-Net","v":0.9362},{"site":"TJU","group":"Flair-Flair","model":"3D-U-Net","v":0.9208},
{"site":"TJU","group":"Flair-Flair","model":"3D-Res-U-Net","v":0.9775},{"site":"TJU","group":"Flair-Flair","model":"3D-Res-U-Net","v":0.9761},{"site":"TJU","group":"Flair-Flair","model":"3D-Res-U-Net","v":0.9752},{"site":"TJU","group":"Flair-Flair","model":"3D-Res-U-Net","v":0.9743},{"site":"TJU","group":"Flair-Flair","model":"3D-Res-U-Net","v":0.9735},{"site":"TJU","group":"Flair-Flair","model":"3D-Res-U-Net","v":0.9603},
{"site":"TJU","group":"Flair-Flair","model":"2D-ResInc","v":0.9789},{"site":"TJU","group":"Flair-Flair","model":"2D-ResInc","v":0.9773},{"site":"TJU","group":"Flair-Flair","model":"2D-ResInc","v":0.9738},{"site":"TJU","group":"Flair-Flair","model":"2D-ResInc","v":0.9565},
{"site":"TJU","group":"Multi-4","model":"DeepMedic","v":0.9820},{"site":"TJU","group":"Multi-4","model":"DeepMedic","v":0.9815},{"site":"TJU","group":"Multi-4","model":"DeepMedic","v":0.9756},{"site":"TJU","group":"Multi-4","model":"DeepMedic","v":0.9582},
{"site":"TJU","group":"Multi-4","model":"3D-U-Net","v":0.9769},{"site":"TJU","group":"Multi-4","model":"3D-U-Net","v":0.9735},{"site":"TJU","group":"Multi-4","model":"3D-U-Net","v":0.9710},{"site":"TJU","group":"Multi-4","model":"3D-U-Net","v":0.9702},{"site":"TJU","group":"Multi-4","model":"3D-U-Net","v":0.9554},
{"site":"TJU","group":"Multi-4","model":"3D-Res-U-Net","v":0.9894},{"site":"TJU","group":"Multi-4","model":"3D-Res-U-Net","v":0.9888},{"site":"TJU","group":"Multi-4","model":"3D-Res-U-Net","v":0.9883},{"site":"TJU","group":"Multi-4","model":"3D-Res-U-Net","v":0.9836},{"site":"TJU","group":"Multi-4","model":"3D-Res-U-Net","v":0.9828},{"site":"TJU","group":"Multi-4","model":"3D-Res-U-Net","v":0.9819},{"site":"TJU","group":"Multi-4","model":"3D-Res-U-Net","v":0.9810},{"site":"TJU","group":"Multi-4","model":"3D-Res-U-Net","v":0.9683},
{"site":"TJU","group":"Multi-4","model":"2D-ResInc","v":0.9898},{"site":"TJU","group":"Multi-4","model":"2D-ResInc","v":0.9892},{"site":"TJU","group":"Multi-4","model":"2D-ResInc","v":0.9855},{"site":"TJU","group":"Multi-4","model":"2D-ResInc","v":0.9833},{"site":"TJU","group":"Multi-4","model":"2D-ResInc","v":0.9618},
{"site":"TJU","group":"Multi-2","model":"DeepMedic","v":0.9869},{"site":"TJU","group":"Multi-2","model":"DeepMedic","v":0.9861},{"site":"TJU","group":"Multi-2","model":"DeepMedic","v":0.9841},{"site":"TJU","group":"Multi-2","model":"DeepMedic","v":0.9830},{"site":"TJU","group":"Multi-2","model":"DeepMedic","v":0.9825},{"site":"TJU","group":"Multi-2","model":"DeepMedic","v":0.9795},{"site":"TJU","group":"Multi-2","model":"DeepMedic","v":0.9387},
{"site":"TJU","group":"Multi-2","model":"3D-U-Net","v":0.9815},{"site":"TJU","group":"Multi-2","model":"3D-U-Net","v":0.9808},{"site":"TJU","group":"Multi-2","model":"3D-U-Net","v":0.9801},{"site":"TJU","group":"Multi-2","model":"3D-U-Net","v":0.9792},{"site":"TJU","group":"Multi-2","model":"3D-U-Net","v":0.9768},{"site":"TJU","group":"Multi-2","model":"3D-U-Net","v":0.9762},{"site":"TJU","group":"Multi-2","model":"3D-U-Net","v":0.9756},{"site":"TJU","group":"Multi-2","model":"3D-U-Net","v":0.9574},
{"site":"TJU","group":"Multi-2","model":"3D-Res-U-Net","v":0.9911},{"site":"TJU","group":"Multi-2","model":"3D-Res-U-Net","v":0.9907},{"site":"TJU","group":"Multi-2","model":"3D-Res-U-Net","v":0.9867},{"site":"TJU","group":"Multi-2","model":"3D-Res-U-Net","v":0.9858},{"site":"TJU","group":"Multi-2","model":"3D-Res-U-Net","v":0.9849},{"site":"TJU","group":"Multi-2","model":"3D-Res-U-Net","v":0.9671},
{"site":"TJU","group":"Multi-2","model":"2D-ResInc","v":0.9901},{"site":"TJU","group":"Multi-2","model":"2D-ResInc","v":0.9893},{"site":"TJU","group":"Multi-2","model":"2D-ResInc","v":0.9885},{"site":"TJU","group":"Multi-2","model":"2D-ResInc","v":0.9875},{"site":"TJU","group":"Multi-2","model":"2D-ResInc","v":0.9832},{"site":"TJU","group":"Multi-2","model":"2D-ResInc","v":0.9694},
{"site":"TJU","group":"Multi-2","model":"FCN","v":0.9276},
{"site":"TJU","group":"Ensemble","model":"DeepMedic","v":0.9852},{"site":"TJU","group":"Ensemble","model":"DeepMedic","v":0.9841},{"site":"TJU","group":"Ensemble","model":"DeepMedic","v":0.9830},{"site":"TJU","group":"Ensemble","model":"DeepMedic","v":0.9821},{"site":"TJU","group":"Ensemble","model":"DeepMedic","v":0.9796},{"site":"TJU","group":"Ensemble","model":"DeepMedic","v":0.9754},
{"site":"TJU","group":"Ensemble","model":"3D-U-Net","v":0.9520},
{"site":"TJU","group":"Ensemble","model":"3D-Res-U-Net","v":0.9846},{"site":"TJU","group":"Ensemble","model":"3D-Res-U-Net","v":0.9778},{"site":"TJU","group":"Ensemble","model":"3D-Res-U-Net","v":0.9772},{"site":"TJU","group":"Ensemble","model":"3D-Res-U-Net","v":0.9766},{"site":"TJU","group":"Ensemble","model":"3D-Res-U-Net","v":0.9761},
{"site":"TJU","group":"Ensemble","model":"2D-ResInc","v":0.9877},{"site":"TJU","group":"Ensemble","model":"2D-ResInc","v":0.9869},{"site":"TJU","group":"Ensemble","model":"2D-ResInc","v":0.9828},
{"site":"TJU","group":"Ensemble","model":"FCN","v":0.9503},{"site":"TJU","group":"Ensemble","model":"FCN","v":0.9483},
{"site":"MDA","group":"T1-T1","model":"DeepMedic","v":0.9905},{"site":"MDA","group":"T1-T1","model":"DeepMedic","v":0.9900},{"site":"MDA","group":"T1-T1","model":"DeepMedic","v":0.9828},
{"site":"MDA","group":"T1-T1","model":"3D-U-Net","v":0.9548},
{"site":"MDA","group":"T1-T1","model":"3D-Res-U-Net","v":0.9793},
{"site":"MDA","group":"T1-T1","model":"2D-ResInc","v":0.9945},{"site":"MDA","group":"T1-T1","model":"2D-ResInc","v":0.9939},{"site":"MDA","group":"T1-T1","model":"2D-ResInc","v":0.9931},{"site":"MDA","group":"T1-T1","model":"2D-ResInc","v":0.9862},
{"site":"MDA","group":"T2-T2","model":"DeepMedic","v":0.9835},
{"site":"MDA","group":"T2-T2","model":"3D-U-Net","v":0.9539},
{"site":"MDA","group":"T2-T2","model":"3D-Res-U-Net","v":0.9749},
{"site":"MDA","group":"Flair-Flair","model":"DeepMedic","v":0.9775},
{"site":"MDA","group":"Flair-Flair","model":"FCN","v":0.9404},
{"site":"MDA","group":"Multi-4","model":"3D-U-Net","v":0.9829},{"site":"MDA","group":"Multi-4","model":"3D-U-Net","v":0.9673},
{"site":"MDA","group":"Multi-4","model":"3D-Res-U-Net","v":0.9805},
{"site":"MDA","group":"Multi-4","model":"2D-ResInc","v":0.9905},{"site":"MDA","group":"Multi-4","model":"2D-ResInc","v":0.9872},
{"site":"MDA","group":"Multi-2","model":"DeepMedic","v":0.9895},{"site":"MDA","group":"Multi-2","model":"DeepMedic","v":0.9883},{"site":"MDA","group":"Multi-2","model":"DeepMedic","v":0.9876},{"site":"MDA","group":"Multi-2","model":"DeepMedic","v":0.9871},
{"site":"MDA","group":"Multi-2","model":"3D-U-Net","v":0.9845},{"site":"MDA","group":"Multi-2","model":"3D-U-Net","v":0.9829},{"site":"MDA","group":"Multi-2","model":"3D-U-Net","v":0.9824},{"site":"MDA","group":"Multi-2","model":"3D-U-Net","v":0.9744},
{"site":"MDA","group":"Multi-2","model":"3D-Res-U-Net","v":0.9826},
{"site":"MDA","group":"Multi-2","model":"2D-ResInc","v":0.9883},
{"site":"MDA","group":"Ensemble","model":"DeepMedic","v":0.9880}
]
},
"spacing": 22,
"resolve": {"scale": {"x": "independent", "y": "independent", "xOffset": "independent", "fill": "independent"}, "axis": {"x": "independent", "y": "independent"}, "legend": {"fill": "independent"}},
"vconcat": [
{
"width": 1171, "height": 570,
"title": {"text": "UPenn"},
"layer": [
{"data": {"name": "boxes"}, "transform": [{"filter": "datum.site == 'UPenn'"}],
 "mark": {"type": "rule", "color": "black", "strokeWidth": 2, "clip": true},
 "encoding": {
  "x": {"field": "group", "type": "nominal", "sort": ["T1-T1","T2-T2","T1Gd-T1Gd","Flair-Flair","Multi-4","Multi-2","Ensemble"], "scale": {"paddingInner": 0, "paddingOuter": 0}, "title": null},
  "xOffset": {"field": "model", "type": "nominal", "sort": ["DeepMedic","3D-U-Net","3D-Res-U-Net","2D-ResInc","FCN"], "scale": {"paddingInner": 0, "paddingOuter": 0.2027}},
  "y": {"field": "lo", "type": "quantitative", "scale": {"domain": [0.95, 1.0], "nice": false, "zero": false}, "title": null, "axis": {"values": [0.95,0.96,0.97,0.98,0.99,1.0], "format": ".2f"}},
  "y2": {"field": "hi"}}},
{"data": {"name": "boxes"}, "transform": [{"filter": "datum.site == 'UPenn'"}],
 "mark": {"type": "tick", "color": "black", "size": 9, "thickness": 2, "clip": true},
 "encoding": {
  "x": {"field": "group", "type": "nominal", "sort": ["T1-T1","T2-T2","T1Gd-T1Gd","Flair-Flair","Multi-4","Multi-2","Ensemble"], "title": null},
  "xOffset": {"field": "model", "type": "nominal", "sort": ["DeepMedic","3D-U-Net","3D-Res-U-Net","2D-ResInc","FCN"]},
  "y": {"field": "lo", "type": "quantitative", "title": null}}},
{"data": {"name": "boxes"}, "transform": [{"filter": "datum.site == 'UPenn'"}],
 "mark": {"type": "tick", "color": "black", "size": 9, "thickness": 2, "clip": true},
 "encoding": {
  "x": {"field": "group", "type": "nominal", "sort": ["T1-T1","T2-T2","T1Gd-T1Gd","Flair-Flair","Multi-4","Multi-2","Ensemble"], "title": null},
  "xOffset": {"field": "model", "type": "nominal", "sort": ["DeepMedic","3D-U-Net","3D-Res-U-Net","2D-ResInc","FCN"]},
  "y": {"field": "hi", "type": "quantitative", "title": null}}},
{"data": {"name": "boxes"}, "transform": [{"filter": "datum.site == 'UPenn'"}],
 "mark": {"type": "bar", "size": 16.5, "stroke": "black", "strokeWidth": 1.5, "clip": true},
 "encoding": {
  "x": {"field": "group", "type": "nominal", "sort": ["T1-T1","T2-T2","T1Gd-T1Gd","Flair-Flair","Multi-4","Multi-2","Ensemble"], "title": null},
  "xOffset": {"field": "model", "type": "nominal", "sort": ["DeepMedic","3D-U-Net","3D-Res-U-Net","2D-ResInc","FCN"]},
  "y": {"field": "q1", "type": "quantitative", "title": null},
  "y2": {"field": "q3"},
  "fill": {"field": "model", "type": "nominal", "title": null, "scale": {"domain": ["DeepMedic","3D-U-Net","3D-Res-U-Net","2D-ResInc","FCN"], "range": ["#7b2323","#2a00ff","#3a6e14","#9ac4e8","#560064"]}}}},
{"data": {"name": "boxes"}, "transform": [{"filter": "datum.site == 'UPenn'"}],
 "mark": {"type": "tick", "color": "#ff7f0e", "size": 15, "thickness": 1.8, "clip": true},
 "encoding": {
  "x": {"field": "group", "type": "nominal", "sort": ["T1-T1","T2-T2","T1Gd-T1Gd","Flair-Flair","Multi-4","Multi-2","Ensemble"], "title": null},
  "xOffset": {"field": "model", "type": "nominal", "sort": ["DeepMedic","3D-U-Net","3D-Res-U-Net","2D-ResInc","FCN"]},
  "y": {"field": "med", "type": "quantitative", "title": null}}},
{"data": {"name": "outliers"}, "transform": [{"filter": "datum.site == 'UPenn'"}],
 "mark": {"type": "point", "shape": "circle", "filled": false, "stroke": "black", "strokeWidth": 1.8, "size": 150, "opacity": 1, "clip": true},
 "encoding": {
  "x": {"field": "group", "type": "nominal", "sort": ["T1-T1","T2-T2","T1Gd-T1Gd","Flair-Flair","Multi-4","Multi-2","Ensemble"], "title": null},
  "xOffset": {"field": "model", "type": "nominal", "sort": ["DeepMedic","3D-U-Net","3D-Res-U-Net","2D-ResInc","FCN"]},
  "y": {"field": "v", "type": "quantitative", "title": null}}},
{"data": {"name": "boxes"}, "transform": [{"filter": "datum.site == 'UPenn' && datum.model == 'DeepMedic' && datum.group != 'T1-T1'"}],
 "mark": {"type": "rule", "color": "black", "strokeWidth": 1.5},
 "encoding": {
  "x": {"field": "group", "type": "nominal", "sort": ["T1-T1","T2-T2","T1Gd-T1Gd","Flair-Flair","Multi-4","Multi-2","Ensemble"], "bandPosition": 0, "title": null}}}
]
},
{
"width": 1171, "height": 570,
"title": {"text": "TJU"},
"layer": [
{"data": {"name": "boxes"}, "transform": [{"filter": "datum.site == 'TJU'"}],
 "mark": {"type": "rule", "color": "black", "strokeWidth": 2, "clip": true},
 "encoding": {
  "x": {"field": "group", "type": "nominal", "sort": ["T1-T1","T2-T2","T1Gd-T1Gd","Flair-Flair","Multi-4","Multi-2","Ensemble"], "scale": {"paddingInner": 0, "paddingOuter": 0}, "title": null},
  "xOffset": {"field": "model", "type": "nominal", "sort": ["DeepMedic","3D-U-Net","3D-Res-U-Net","2D-ResInc","FCN"], "scale": {"paddingInner": 0, "paddingOuter": 0.2027}},
  "y": {"field": "lo", "type": "quantitative", "scale": {"domain": [0.92, 1.0], "nice": false, "zero": false}, "title": null, "axis": {"values": [0.92,0.93,0.94,0.95,0.96,0.97,0.98,0.99,1.0], "format": ".2f"}},
  "y2": {"field": "hi"}}},
{"data": {"name": "boxes"}, "transform": [{"filter": "datum.site == 'TJU'"}],
 "mark": {"type": "tick", "color": "black", "size": 9, "thickness": 2, "clip": true},
 "encoding": {
  "x": {"field": "group", "type": "nominal", "sort": ["T1-T1","T2-T2","T1Gd-T1Gd","Flair-Flair","Multi-4","Multi-2","Ensemble"], "title": null},
  "xOffset": {"field": "model", "type": "nominal", "sort": ["DeepMedic","3D-U-Net","3D-Res-U-Net","2D-ResInc","FCN"]},
  "y": {"field": "lo", "type": "quantitative", "title": null}}},
{"data": {"name": "boxes"}, "transform": [{"filter": "datum.site == 'TJU'"}],
 "mark": {"type": "tick", "color": "black", "size": 9, "thickness": 2, "clip": true},
 "encoding": {
  "x": {"field": "group", "type": "nominal", "sort": ["T1-T1","T2-T2","T1Gd-T1Gd","Flair-Flair","Multi-4","Multi-2","Ensemble"], "title": null},
  "xOffset": {"field": "model", "type": "nominal", "sort": ["DeepMedic","3D-U-Net","3D-Res-U-Net","2D-ResInc","FCN"]},
  "y": {"field": "hi", "type": "quantitative", "title": null}}},
{"data": {"name": "boxes"}, "transform": [{"filter": "datum.site == 'TJU'"}],
 "mark": {"type": "bar", "size": 16.5, "stroke": "black", "strokeWidth": 1.5, "clip": true},
 "encoding": {
  "x": {"field": "group", "type": "nominal", "sort": ["T1-T1","T2-T2","T1Gd-T1Gd","Flair-Flair","Multi-4","Multi-2","Ensemble"], "title": null},
  "xOffset": {"field": "model", "type": "nominal", "sort": ["DeepMedic","3D-U-Net","3D-Res-U-Net","2D-ResInc","FCN"]},
  "y": {"field": "q1", "type": "quantitative", "title": null},
  "y2": {"field": "q3"},
  "fill": {"field": "model", "type": "nominal", "title": null, "scale": {"domain": ["DeepMedic","3D-U-Net","3D-Res-U-Net","2D-ResInc","FCN"], "range": ["#7b2323","#2a00ff","#3a6e14","#9ac4e8","#560064"]}}}},
{"data": {"name": "boxes"}, "transform": [{"filter": "datum.site == 'TJU'"}],
 "mark": {"type": "tick", "color": "#ff7f0e", "size": 15, "thickness": 1.8, "clip": true},
 "encoding": {
  "x": {"field": "group", "type": "nominal", "sort": ["T1-T1","T2-T2","T1Gd-T1Gd","Flair-Flair","Multi-4","Multi-2","Ensemble"], "title": null},
  "xOffset": {"field": "model", "type": "nominal", "sort": ["DeepMedic","3D-U-Net","3D-Res-U-Net","2D-ResInc","FCN"]},
  "y": {"field": "med", "type": "quantitative", "title": null}}},
{"data": {"name": "outliers"}, "transform": [{"filter": "datum.site == 'TJU'"}],
 "mark": {"type": "point", "shape": "circle", "filled": false, "stroke": "black", "strokeWidth": 1.8, "size": 150, "opacity": 1, "clip": true},
 "encoding": {
  "x": {"field": "group", "type": "nominal", "sort": ["T1-T1","T2-T2","T1Gd-T1Gd","Flair-Flair","Multi-4","Multi-2","Ensemble"], "title": null},
  "xOffset": {"field": "model", "type": "nominal", "sort": ["DeepMedic","3D-U-Net","3D-Res-U-Net","2D-ResInc","FCN"]},
  "y": {"field": "v", "type": "quantitative", "title": null}}},
{"data": {"name": "boxes"}, "transform": [{"filter": "datum.site == 'TJU' && datum.model == 'DeepMedic' && datum.group != 'T1-T1'"}],
 "mark": {"type": "rule", "color": "black", "strokeWidth": 1.5},
 "encoding": {
  "x": {"field": "group", "type": "nominal", "sort": ["T1-T1","T2-T2","T1Gd-T1Gd","Flair-Flair","Multi-4","Multi-2","Ensemble"], "bandPosition": 0, "title": null}}}
]
},
{
"width": 1171, "height": 570,
"title": {"text": "MDA"},
"layer": [
{"data": {"name": "boxes"}, "transform": [{"filter": "datum.site == 'MDA'"}],
 "mark": {"type": "rule", "color": "black", "strokeWidth": 2, "clip": true},
 "encoding": {
  "x": {"field": "group", "type": "nominal", "sort": ["T1-T1","T2-T2","T1Gd-T1Gd","Flair-Flair","Multi-4","Multi-2","Ensemble"], "scale": {"paddingInner": 0, "paddingOuter": 0}, "title": null},
  "xOffset": {"field": "model", "type": "nominal", "sort": ["DeepMedic","3D-U-Net","3D-Res-U-Net","2D-ResInc","FCN"], "scale": {"paddingInner": 0, "paddingOuter": 0.2027}},
  "y": {"field": "lo", "type": "quantitative", "scale": {"domain": [0.94, 1.0], "nice": false, "zero": false}, "title": null, "axis": {"values": [0.94,0.95,0.96,0.97,0.98,0.99,1.0], "format": ".2f"}},
  "y2": {"field": "hi"}}},
{"data": {"name": "boxes"}, "transform": [{"filter": "datum.site == 'MDA'"}],
 "mark": {"type": "tick", "color": "black", "size": 9, "thickness": 2, "clip": true},
 "encoding": {
  "x": {"field": "group", "type": "nominal", "sort": ["T1-T1","T2-T2","T1Gd-T1Gd","Flair-Flair","Multi-4","Multi-2","Ensemble"], "title": null},
  "xOffset": {"field": "model", "type": "nominal", "sort": ["DeepMedic","3D-U-Net","3D-Res-U-Net","2D-ResInc","FCN"]},
  "y": {"field": "lo", "type": "quantitative", "title": null}}},
{"data": {"name": "boxes"}, "transform": [{"filter": "datum.site == 'MDA'"}],
 "mark": {"type": "tick", "color": "black", "size": 9, "thickness": 2, "clip": true},
 "encoding": {
  "x": {"field": "group", "type": "nominal", "sort": ["T1-T1","T2-T2","T1Gd-T1Gd","Flair-Flair","Multi-4","Multi-2","Ensemble"], "title": null},
  "xOffset": {"field": "model", "type": "nominal", "sort": ["DeepMedic","3D-U-Net","3D-Res-U-Net","2D-ResInc","FCN"]},
  "y": {"field": "hi", "type": "quantitative", "title": null}}},
{"data": {"name": "boxes"}, "transform": [{"filter": "datum.site == 'MDA'"}],
 "mark": {"type": "bar", "size": 16.5, "stroke": "black", "strokeWidth": 1.5, "clip": true},
 "encoding": {
  "x": {"field": "group", "type": "nominal", "sort": ["T1-T1","T2-T2","T1Gd-T1Gd","Flair-Flair","Multi-4","Multi-2","Ensemble"], "title": null},
  "xOffset": {"field": "model", "type": "nominal", "sort": ["DeepMedic","3D-U-Net","3D-Res-U-Net","2D-ResInc","FCN"]},
  "y": {"field": "q1", "type": "quantitative", "title": null},
  "y2": {"field": "q3"},
  "fill": {"field": "model", "type": "nominal", "title": null, "scale": {"domain": ["DeepMedic","3D-U-Net","3D-Res-U-Net","2D-ResInc","FCN"], "range": ["#7b2323","#2a00ff","#3a6e14","#9ac4e8","#560064"]}}}},
{"data": {"name": "boxes"}, "transform": [{"filter": "datum.site == 'MDA'"}],
 "mark": {"type": "tick", "color": "#ff7f0e", "size": 15, "thickness": 1.8, "clip": true},
 "encoding": {
  "x": {"field": "group", "type": "nominal", "sort": ["T1-T1","T2-T2","T1Gd-T1Gd","Flair-Flair","Multi-4","Multi-2","Ensemble"], "title": null},
  "xOffset": {"field": "model", "type": "nominal", "sort": ["DeepMedic","3D-U-Net","3D-Res-U-Net","2D-ResInc","FCN"]},
  "y": {"field": "med", "type": "quantitative", "title": null}}},
{"data": {"name": "outliers"}, "transform": [{"filter": "datum.site == 'MDA'"}],
 "mark": {"type": "point", "shape": "circle", "filled": false, "stroke": "black", "strokeWidth": 1.8, "size": 150, "opacity": 1, "clip": true},
 "encoding": {
  "x": {"field": "group", "type": "nominal", "sort": ["T1-T1","T2-T2","T1Gd-T1Gd","Flair-Flair","Multi-4","Multi-2","Ensemble"], "title": null},
  "xOffset": {"field": "model", "type": "nominal", "sort": ["DeepMedic","3D-U-Net","3D-Res-U-Net","2D-ResInc","FCN"]},
  "y": {"field": "v", "type": "quantitative", "title": null}}},
{"data": {"name": "boxes"}, "transform": [{"filter": "datum.site == 'MDA' && datum.model == 'DeepMedic' && datum.group != 'T1-T1'"}],
 "mark": {"type": "rule", "color": "black", "strokeWidth": 1.5},
 "encoding": {
  "x": {"field": "group", "type": "nominal", "sort": ["T1-T1","T2-T2","T1Gd-T1Gd","Flair-Flair","Multi-4","Multi-2","Ensemble"], "bandPosition": 0, "title": null}}}
]
}
]
}
